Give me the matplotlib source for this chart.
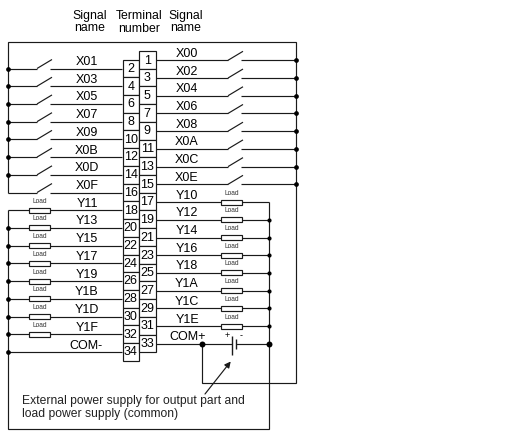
import matplotlib
matplotlib.use('Agg')
import matplotlib.pyplot as plt
from matplotlib.patches import Rectangle

left_names = ['X01', 'X03', 'X05', 'X07', 'X09', 'X0B', 'X0D', 'X0F',
              'Y11', 'Y13', 'Y15', 'Y17', 'Y19', 'Y1B', 'Y1D', 'Y1F', 'COM-']
right_names = ['X00', 'X02', 'X04', 'X06', 'X08', 'X0A', 'X0C', 'X0E',
               'Y10', 'Y12', 'Y14', 'Y16', 'Y18', 'Y1A', 'Y1C', 'Y1E', 'COM+']
left_terms = list(range(2, 36, 2))
right_terms = list(range(1, 35, 2))

plt.rcParams['font.family'] = ['Liberation Sans', 'DejaVu Sans']

fig = plt.figure(figsize=(5.07, 4.37), dpi=100)
ax = fig.add_axes([0, 0, 1, 1])
ax.set_xlim(0, 507)
ax.set_ylim(437, 0)
ax.axis('off')

LW = 0.85
INK = '#1a1a1a'
PITCH = 17.72
Y_R0 = 60.3
Y_L0 = 68.5


def wire(xs, ys, lw=LW):
    ax.plot(xs, ys, color=INK, lw=lw, solid_capstyle='butt', solid_joinstyle='miter')


def dot(x, y, s=3.4):
    ax.plot([x], [y], 'o', color='k', ms=s, mew=0, zorder=5)


def switch(x0, y, x1, x2):
    # x0 = where the blade starts, x2 = far end of the wire
    wire([x1, x0], [y, y])
    wire([x0, x0 + 15], [y, y - 9])
    wire([x0 + 13, x2], [y, y])


def load(x, y):
    ax.add_patch(Rectangle((x, y - 2.5), 21, 5, fc='white', ec=INK, lw=LW, zorder=3))
    ax.text(x + 10.5, y - 5.5, 'Load', fontsize=4.8, ha='center', va='bottom', color='#333333')


# header
ax.text(90, 16, 'Signal', fontsize=8.8, ha='center', va='center')
ax.text(90, 28, 'name', fontsize=8.8, ha='center', va='center')
ax.text(139.5, 16, 'Terminal', fontsize=8.8, ha='center', va='center')
ax.text(139.5, 29, 'number', fontsize=8.8, ha='center', va='center')
ax.text(186, 16, 'Signal', fontsize=8.8, ha='center', va='center')
ax.text(186, 28, 'name', fontsize=8.8, ha='center', va='center')

# left side rows
for i, name in enumerate(left_names):
    y = Y_L0 + i * PITCH
    if name.startswith('X'):
        switch(37, y, 8, 122)
    else:
        wire([8, 122], [y, y])
        if name != 'COM-':
            load(29, y)
    ax.text(87 if name != 'COM-' else 86, y - 6.5, name, fontsize=9, ha='center', va='center')
    if name not in ('X0F', 'Y11'):
        dot(8, y)

# right side rows
for i, name in enumerate(right_names):
    y = Y_R0 + i * PITCH
    if name.startswith('X'):
        switch(228, y, 155, 296)
        dot(296, y)
    elif name == 'COM+':
        wire([155, 232.3], [y, y])
        wire([235.7, 268.5], [y, y])
        wire([232.3, 232.3], [y - 8, y + 11.5], lw=1.0)
        wire([235.7, 235.7], [y - 5, y + 5.5], lw=1.0)
        ax.text(227, y - 8, '+', fontsize=6.5, ha='center', va='center')
        ax.text(241, y - 8, '-', fontsize=6.5, ha='center', va='center')
        dot(201.5, y, 4.3)
        dot(268.5, y, 4.3)
    else:
        wire([155, 268.5], [y, y])
        load(221, y)
        if name != 'Y10':
            dot(268.5, y, 3)
    ax.text(187 if name != 'COM+' else 187.5, y - 6.5, name, fontsize=9, ha='center', va='center')

# terminal blocks
for i, t in enumerate(left_terms):
    y = Y_L0 + i * PITCH
    ax.add_patch(Rectangle((122.5, y - 8.9), 16.5, PITCH, fc='white', ec=INK, lw=LW, zorder=3))
    ax.text(130.7, y + 0.3, str(t), fontsize=9, ha='center', va='center', zorder=4)
for i, t in enumerate(right_terms):
    y = Y_R0 + i * PITCH
    ax.add_patch(Rectangle((139, y - 9.3), 16.5, PITCH, fc='white', ec=INK, lw=LW, zorder=3))
    ax.text(147.3, y + 0.3, str(t), fontsize=9, ha='center', va='center', zorder=4)

# outer wiring
y_x0f = Y_L0 + 7 * PITCH
y_y11 = Y_L0 + 8 * PITCH
y_y10 = Y_R0 + 8 * PITCH
y_com = Y_R0 + 16 * PITCH
wire([8, 8, 296, 296, 201.5, 201.5], [y_x0f, 41.5, 41.5, 383, 383, y_com])
wire([8, 8, 268.5, 268.5], [y_y11, 429, 429, y_y10])

# arrow and note
ax.annotate('', xy=(230.7, 361.5), xytext=(205, 394),
            arrowprops=dict(arrowstyle='-|>', color=INK, lw=LW, mutation_scale=9, shrinkA=0, shrinkB=0))
ax.text(22.5, 400.7, 'External power supply for output part and', fontsize=8.7, ha='left', va='center', color='#222222')
ax.text(22.5, 414, 'load power supply (common)', fontsize=8.7, ha='left', va='center', color='#222222')

fig.savefig('out.png', dpi=100)
